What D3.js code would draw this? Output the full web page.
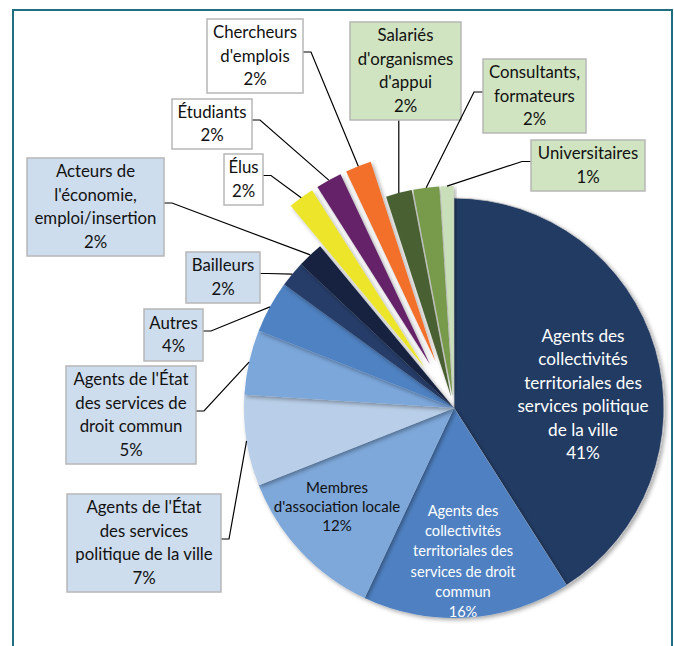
<!DOCTYPE html>
<html>
<head>
<meta charset="utf-8">
<script src="https://cdn.jsdelivr.net/npm/d3@7"></script>
<style>
  body { margin: 0; background: #fff; }
  svg { display: block; font-family: Lato, "Noto Sans", sans-serif; }
</style>
</head>
<body>
<svg id="chart" width="674" height="646"></svg>
<script>
// Categories in clockwise order, starting at 12 o'clock
let categories = [
  'Agents des\ncollectivités\nterritoriales des\nservices politique\nde la ville',
  'Agents des\ncollectivités\nterritoriales des\nservices de droit\ncommun',
  'Membres\nd\'association locale',
  'Agents de l\'État\ndes services\npolitique de la ville',
  'Agents de l\'État\ndes services de\ndroit commun',
  'Autres',
  'Bailleurs',
  'Acteurs de\nl\'économie,\nemploi/insertion',
  'Élus',
  'Étudiants',
  'Chercheurs\nd\'emplois',
  'Salariés\nd\'organismes\nd\'appui',
  'Consultants,\nformateurs',
  'Universitaires'
];
let values = [41, 16, 12, 7, 5, 4, 2, 2, 2, 2, 2, 2, 2, 1];

let sliceColors = [
  '#243a64', '#4f81c2', '#7ea8da', '#b9cfe9', '#7ba7db', '#4f82c2', '#263e69',
  '#14213f', '#ece52a', '#652369', '#f26f2b', '#4a6030', '#789b4c', '#c9dfb9'
];
// how far each slice is pulled out of the pie (px)
let explode = [0, 0, 0, 0, 0, 0, 0, 0, 50, 50, 50, 12, 12, 12];

// label placement: 'in' = inside the slice, otherwise a callout box
let labelLayout = [
  { type: 'in', x: 583, y: 394, size: 17.2, lh: 23.4, fill: '#fff' },
  { type: 'in', x: 463, y: 561, size: 14.6, lh: 20.2, fill: '#fff' },
  { type: 'in', x: 337, y: 506, size: 15, lh: 19, fill: '#111' },
  { type: 'box', x: 67, y: 494, w: 154, h: 98, bg: '#cedded' },
  { type: 'box', x: 66, y: 366, w: 130, h: 98, bg: '#cedded' },
  { type: 'box', x: 144, y: 309, w: 59, h: 52, bg: '#cedded' },
  { type: 'box', x: 186, y: 252, w: 74, h: 51, bg: '#cedded' },
  { type: 'box', x: 27, y: 158, w: 137, h: 98, bg: '#cedded' },
  { type: 'box', x: 224, y: 154, w: 39, h: 51, bg: '#ffffff' },
  { type: 'box', x: 172, y: 99, w: 80, h: 50, bg: '#ffffff' },
  { type: 'box', x: 207, y: 19, w: 96, h: 74, bg: '#ffffff' },
  { type: 'box', x: 350, y: 22, w: 111, h: 98, bg: '#d0e4c1' },
  { type: 'box', x: 483, y: 59, w: 103, h: 74, bg: '#d0e4c1' },
  { type: 'box', x: 531, y: 140, w: 114, h: 51, bg: '#d0e4c1' }
];

let cx = 454;
let cy = 408;
let radius = 210;
let LINE_HEIGHT = 23.5;
let BOX_FONT = 16.8;

let svg = d3.select('#chart');

// Frame round the chart area
svg.append('rect')
  .attr('x', 13)
  .attr('y', 10)
  .attr('width', 659)
  .attr('height', 700)
  .attr('fill', '#fff')
  .attr('stroke', '#1f6f80')
  .attr('stroke-width', 2);

let defs = svg.append('defs');
let shadow = defs.append('filter')
  .attr('id', 'shadow')
  .attr('x', '-20%').attr('y', '-20%')
  .attr('width', '140%').attr('height', '140%');
shadow.append('feDropShadow')
  .attr('dx', 2).attr('dy', 2)
  .attr('stdDeviation', 2)
  .attr('flood-color', '#000')
  .attr('flood-opacity', 0.35);

let pie = d3.pie().sort(null).value(d => d);
let arcs = pie(values);
let arc = d3.arc().innerRadius(0).outerRadius(radius);

function midAngle (d) {
  return (d.startAngle + d.endAngle) / 2;
}
function offsetOf (i) {
  let a = midAngle(arcs[i]);
  return [explode[i] * Math.sin(a), -explode[i] * Math.cos(a)];
}

let pieG = svg.append('g')
  .attr('transform', 'translate(' + cx + ',' + cy + ')');

pieG.selectAll('path.slice')
  .data(arcs)
  .enter().append('path')
  .attr('class', 'slice')
  .attr('d', arc)
  .attr('fill', (d, i) => sliceColors[i])
  .attr('stroke', (d, i) => i === 0 ? '#c8c8c8' : 'none')
  .attr('stroke-width', 0.8)
  .attr('filter', 'url(#shadow)')
  .attr('transform', (d, i) => 'translate(' + offsetOf(i).join(',') + ')');

// Labels
let labelG = svg.append('g');
arcs.forEach((d, i) => {
  let lay = labelLayout[i];
  let lines = categories[i].split('\n').concat(values[i] + '%');

  if (lay.type === 'in') {
    let t = labelG.append('text')
      .attr('text-anchor', 'middle')
      .attr('font-size', lay.size)
      .attr('fill', lay.fill);
    lines.forEach((line, k) => {
      t.append('tspan')
        .attr('x', lay.x)
        .attr('y', lay.y + (k - (lines.length - 1) / 2) * lay.lh)
        .attr('dominant-baseline', 'central')
        .text(line);
    });
    return;
  }

  // Leader line: from the box edge to the slice's outer edge
  let a = midAngle(d);
  let off = offsetOf(i);
  let px = cx + off[0] + radius * Math.sin(a);
  let py = cy + off[1] - radius * Math.cos(a);
  let midY = lay.y + lay.h / 2 - 4;
  let pts;
  if (px > lay.x + lay.w) {
    pts = [[lay.x + lay.w, midY], [lay.x + lay.w + 8, midY], [px, py]];
  } else if (px < lay.x) {
    pts = [[lay.x, midY], [lay.x - 9, midY], [px, py]];
  } else {
    pts = [[px, lay.y + lay.h], [px, py]];
  }
  labelG.append('path')
    .attr('d', d3.line()(pts))
    .attr('fill', 'none')
    .attr('stroke', '#000')
    .attr('stroke-width', 1.2);

  labelG.append('rect')
    .attr('x', lay.x)
    .attr('y', lay.y)
    .attr('width', lay.w)
    .attr('height', lay.h)
    .attr('fill', lay.bg)
    .attr('stroke', '#b7b7b7')
    .attr('stroke-width', 1.5);

  let t = labelG.append('text')
    .attr('text-anchor', 'middle')
    .attr('font-size', BOX_FONT)
    .attr('fill', '#111');
  let boxMid = lay.y + lay.h / 2;
  lines.forEach((line, k) => {
    t.append('tspan')
      .attr('x', lay.x + lay.w / 2)
      .attr('y', boxMid + (k - (lines.length - 1) / 2) * LINE_HEIGHT - 1)
      .attr('dominant-baseline', 'central')
      .text(line);
  });
});
</script>
</body>
</html>
